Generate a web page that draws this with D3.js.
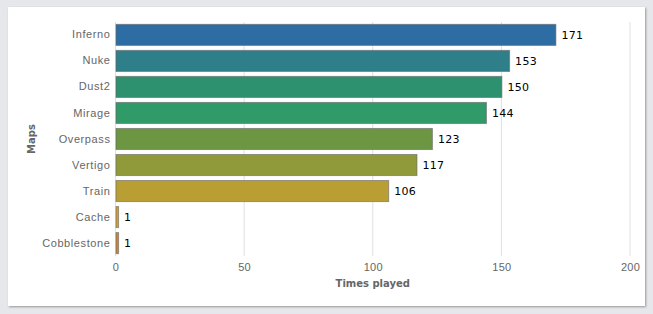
<!DOCTYPE html>
<html>
<head>
<meta charset="utf-8">
<script src="https://cdn.jsdelivr.net/npm/d3@7"></script>
<style>
  body { margin: 0; background: #e6e7eb; }
  .card { position: absolute; left: 8px; top: 7px; width: 637px; height: 299px; background: #fff; box-shadow: 1px 1px 2px rgba(0,0,0,0.35); }
  svg { position: absolute; left: 0; top: 0; font-family: "DejaVu Sans", Verdana, sans-serif; }
</style>
</head>
<body>
<div class="card"></div>
<svg id="chart"></svg>
<script>
// map names and how often each was played
const maps = ["Inferno", "Nuke", "Dust2", "Mirage", "Overpass", "Vertigo", "Train", "Cache", "Cobblestone"];
const timesPlayed = [171, 153, 150, 144, 123, 117, 106, 1, 1];
const barColors = ["#2e6da4", "#2e7f89", "#2d9170", "#319a69", "#6c9642", "#919a3b", "#b99e34", "#d1a032", "#cf8430"];
const xTicks = [0, 50, 100, 150, 200];

const width = 653, height = 314;
const margin = { top: 22, right: 23, bottom: 58, left: 115.5 };

const svg = d3.select("#chart")
  .attr("width", width)
  .attr("height", height);

const x = d3.scaleLinear()
  .domain([0, 200])
  .range([margin.left, width - margin.right]);

const y = d3.scaleBand()
  .domain(maps)
  .range([margin.top, height - margin.bottom])
  .paddingInner(0.19)
  .paddingOuter(0.09);

// vertical grid
svg.append("g")
  .selectAll("line")
  .data(xTicks)
  .enter()
  .append("line")
  .attr("x1", d => x(d))
  .attr("x2", d => x(d))
  .attr("y1", margin.top)
  .attr("y2", height - margin.bottom)
  .attr("stroke", "#e0e0e0")
  .attr("stroke-width", 1);

// bars
svg.append("g")
  .selectAll("rect")
  .data(maps)
  .enter()
  .append("rect")
  .attr("x", x(0) + 0.5)
  .attr("y", d => y(d))
  .attr("width", (d, i) => x(timesPlayed[i]) - x(0))
  .attr("height", y.bandwidth())
  .attr("fill", (d, i) => barColors[i])
  .attr("stroke", "#666")
  .attr("stroke-opacity", 0.6)
  .attr("stroke-width", 1);

// value labels
svg.append("g")
  .selectAll("text")
  .data(maps)
  .enter()
  .append("text")
  .attr("x", (d, i) => x(timesPlayed[i]) + 6)
  .attr("y", d => y(d) + y.bandwidth() / 2)
  .attr("dy", "0.35em")
  .style("font-size", "11px")
  .style("letter-spacing", "0.3px")
  .attr("fill", "#000")
  .text((d, i) => timesPlayed[i]);

// y axis labels
const yAxis = svg.append("g")
  .attr("transform", `translate(${margin.left},0)`)
  .call(d3.axisLeft(y).tickSize(0).tickPadding(5));
yAxis.select(".domain").remove();
yAxis.selectAll("text")
  .style("font-size", "11px")
  .style("letter-spacing", "0.6px")
  .attr("fill", "#666");

// x axis labels
const xAxis = svg.append("g")
  .attr("transform", `translate(0,${height - margin.bottom})`)
  .call(d3.axisBottom(x).tickValues(xTicks).tickSize(0).tickPadding(7));
xAxis.select(".domain").remove();
xAxis.selectAll("text")
  .style("font-size", "11px")
  .style("letter-spacing", "0.3px")
  .attr("fill", "#666");

// axis titles
svg.append("text")
  .attr("text-anchor", "middle")
  .attr("x", (x(0) + x(200)) / 2)
  .attr("y", 287)
  .style("font-size", "10px")
  .style("font-weight", "bold")
  .attr("fill", "#666")
  .text("Times played");

svg.append("text")
  .attr("text-anchor", "middle")
  .attr("transform", `translate(35,${(margin.top + height - margin.bottom) / 2}) rotate(-90)`)
  .style("font-size", "10px")
  .style("font-weight", "bold")
  .attr("fill", "#666")
  .text("Maps");
</script>
</body>
</html>
